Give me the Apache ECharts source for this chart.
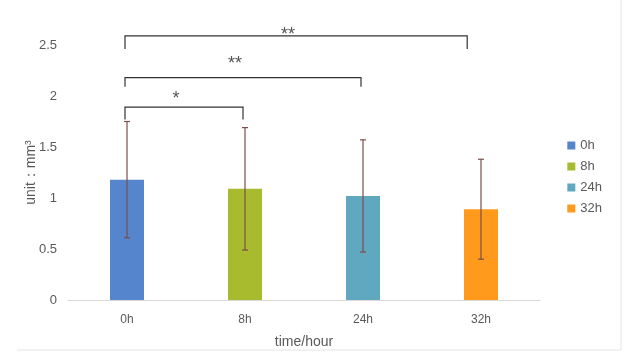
<!DOCTYPE html>
<html>
<head>
<meta charset="utf-8">
<script src="https://cdn.jsdelivr.net/npm/echarts@6/dist/echarts.min.js"></script>
<style>
  html, body { margin: 0; padding: 0; background: #fff; }
  #main { width: 625px; height: 354px; }
</style>
</head>
<body>
<div id="main"></div>
<script>
// categories and values
var categories = ["0h", "8h", "24h", "32h"];
var means = [1.18, 1.09, 1.02, 0.89];
var errors = [0.57, 0.60, 0.55, 0.49];
var colors = ["#5585cc", "#a8bb2e", "#60a8bf", "#ff9a1c"];
var yTicks = { min: 0, max: 2.5, interval: 0.5 };

// significance brackets: [from, to, height, dropTo, starHeight, label]
var brackets = [
  [0, 1, 1.89, 1.77, 2.0, "*"],
  [0, 2, 2.18, 2.09, 2.34, "**"],
  [0, 2.9, 2.59, 2.46, 2.63, "**"]
];

var myChart = echarts.init(document.getElementById("main"));

var font = "Liberation Sans";
var textGrey = "#595959";

var barSeries = categories.map(function (c, i) {
  var d = categories.map(function (x, j) { return j === i ? means[j] : null; });
  return {
    name: c,
    type: "bar",
    stack: "all",
    barWidth: 34,
    itemStyle: { color: colors[i] },
    data: d
  };
});

var errData = means.map(function (m, i) { return [i, m - errors[i], m + errors[i]]; });

// x position for fractional category value
function catX(api, v) {
  var base = Math.floor(v);
  var frac = v - base;
  var p = api.coord([base, 0])[0];
  return p + frac * api.size([1, 0])[0];
}

var option = {
  animation: false,
  textStyle: { fontFamily: font },
  grid: { left: 68, right: 85, top: 45, bottom: 52 },
  legend: {
    orient: "vertical",
    right: 18,
    top: 134,
    itemWidth: 8,
    itemHeight: 8,
    itemGap: 8,
    icon: "rect",
    textStyle: { color: textGrey, fontSize: 13, fontFamily: font },
    data: categories
  },
  xAxis: {
    type: "category",
    data: categories,
    name: "time/hour",
    nameLocation: "middle",
    nameGap: 35,
    nameTextStyle: { color: textGrey, fontSize: 14, fontFamily: font },
    axisLine: { lineStyle: { color: "#d9d9d9" } },
    axisTick: { show: false },
    axisLabel: { color: textGrey, fontSize: 12, margin: 14 }
  },
  yAxis: {
    type: "value",
    min: yTicks.min,
    max: yTicks.max,
    interval: yTicks.interval,
    name: "unit：mm³",
    nameLocation: "middle",
    nameGap: 30,
    nameMoveOverlap: false,
    nameTextStyle: { color: textGrey, fontSize: 14, fontFamily: font },
    axisLine: { show: false },
    axisTick: { show: false },
    splitLine: { show: false },
    axisLabel: { color: textGrey, fontSize: 13, margin: 11 }
  },
  series: barSeries.concat([
    {
      type: "custom",
      data: errData,
      z: 10,
      renderItem: function (params, api) {
        var x = api.value(0);
        var lo = api.coord([x, api.value(1)]);
        var hi = api.coord([x, api.value(2)]);
        var cap = 3;
        var st = { stroke: "#7a4f4b", lineWidth: 1.2 };
        return {
          type: "group",
          children: [
            { type: "line", shape: { x1: lo[0], y1: lo[1], x2: hi[0], y2: hi[1] }, style: st },
            { type: "line", shape: { x1: hi[0] - cap, y1: hi[1], x2: hi[0] + cap, y2: hi[1] }, style: st },
            { type: "line", shape: { x1: lo[0] - cap, y1: lo[1], x2: lo[0] + cap, y2: lo[1] }, style: st }
          ]
        };
      }
    },
    {
      type: "custom",
      data: brackets,
      clip: false,
      z: 10,
      renderItem: function (params, api) {
        var x1 = catX(api, api.value(0)) - 2;
        var x2 = catX(api, api.value(1)) - 2;
        var y = api.coord([0, api.value(2)])[1];
        var yd = api.coord([0, api.value(3)])[1];
        var ys = api.coord([0, api.value(4)])[1];
        var st = { stroke: "#333", lineWidth: 1.2, fill: null };
        return {
          type: "group",
          children: [
            { type: "polyline", shape: { points: [[x1, yd], [x1, y], [x2, y], [x2, yd]] }, style: st },
            {
              type: "text",
              style: {
                text: brackets[params.dataIndex][5],
                x: (x1 + x2) / 2 - 8,
                y: ys + 3,
                align: "center",
                verticalAlign: "middle",
                fill: "#555",
                font: "18px " + font
              }
            }
          ]
        };
      }
    }
  ]),
  graphic: [
    { type: "line", shape: { x1: 621, y1: 0, x2: 621, y2: 350 }, style: { stroke: "#e4e4e4", lineWidth: 1 } },
    { type: "line", shape: { x1: 17, y1: 350, x2: 621, y2: 350 }, style: { stroke: "#e4e4e4", lineWidth: 1 } }
  ]
};

myChart.setOption(option);
window.addEventListener("resize", function () { myChart.resize(); });
</script>
</body>
</html>
